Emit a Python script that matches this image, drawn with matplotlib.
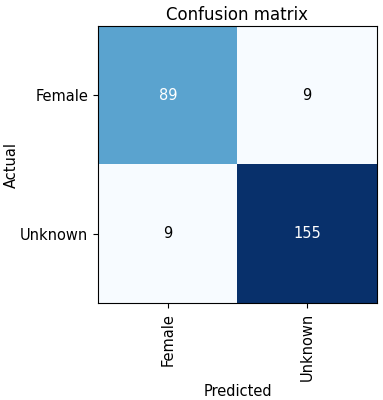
import matplotlib
matplotlib.use('Agg')
import matplotlib.pyplot as plt
import numpy as np

classes = ['Female', 'Unknown']
row_female = [89, 9]
row_unknown = [9, 155]

cm = np.array([row_female, row_unknown])

fig = plt.figure(figsize=(3.83, 4.0), dpi=100)
ax = fig.add_axes([0.256, 0.2425, 0.728, 0.6925])
ax.imshow(cm, interpolation='nearest', cmap=plt.cm.Blues, aspect='auto')
ax.set_title('Confusion matrix', fontsize=12, pad=4)

ticks = np.arange(len(classes))
ax.set_xticks(ticks)
ax.set_xticklabels(classes, rotation=90, fontsize=10.5)
ax.set_yticks(ticks)
ax.set_yticklabels(classes, fontsize=10.5)

thresh = cm.max() / 2.
for i in range(cm.shape[0]):
    for j in range(cm.shape[1]):
        ax.text(j, i, str(cm[i, j]), ha='center', va='center', fontsize=10.5,
                color='white' if cm[i, j] > thresh else 'black')

ax.set_ylabel('Actual', fontsize=10.5)
ax.yaxis.set_label_coords(-0.285, 0.5)
ax.set_xlabel('Predicted', fontsize=10.5, labelpad=2)

fig.savefig('out.png', dpi=100)
